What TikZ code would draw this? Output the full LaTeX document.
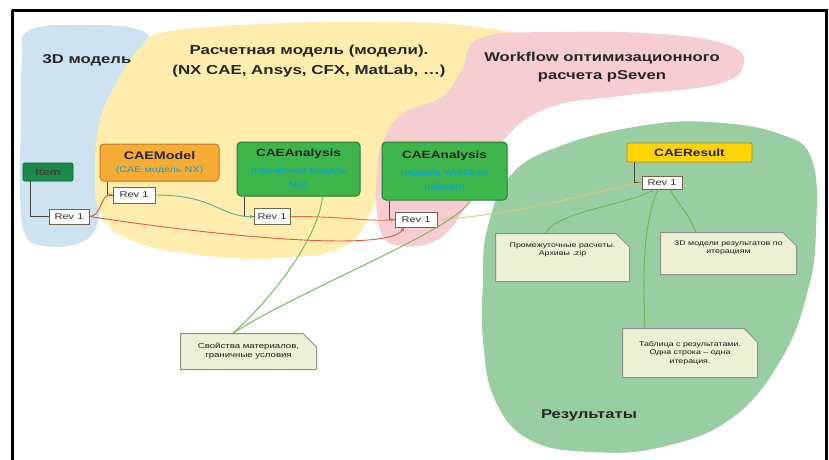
\documentclass[tikz,border=0pt]{standalone}
\usepackage{fontspec}
\setmainfont{Liberation Sans}[FakeStretch=1.3]
\usetikzlibrary{arrows.meta,calc}
\definecolor{blobblue}{RGB}{205,227,240}
\definecolor{blobyellow}{RGB}{254,237,172}
\definecolor{blobpink}{RGB}{246,205,208}
\definecolor{blobgreen}{RGB}{152,206,162}
\definecolor{itemgreen}{RGB}{24,140,72}
\definecolor{caegreen}{RGB}{62,182,76}
\definecolor{caegreenb}{RGB}{40,120,55}
\definecolor{caeorange}{RGB}{247,172,52}
\definecolor{caeorangeb}{RGB}{190,120,40}
\definecolor{caeyellow}{RGB}{255,212,0}
\definecolor{caeyellowb}{RGB}{170,140,20}
\definecolor{subblue}{RGB}{0,160,235}
\definecolor{revborder}{RGB}{110,100,80}
\definecolor{notefill}{RGB}{236,240,212}
\definecolor{noteborder}{RGB}{140,145,140}
\definecolor{linkred}{RGB}{225,85,70}
\definecolor{linkorange}{RGB}{232,110,60}
\definecolor{linkteal}{RGB}{90,172,150}
\definecolor{linkgreen}{RGB}{110,180,80}
\definecolor{linktan}{RGB}{222,200,120}
\definecolor{elbow}{RGB}{70,70,60}
\newcommand{\subtxt}{\mdseries\color{subblue}\fontsize{8.3}{10}\selectfont}
\tikzset{
  titletext/.style={font=\bfseries\fontsize{12.8}{18}\selectfont, align=center, text=black!85},
  caebox/.style={draw=#1, line width=1pt, rounded corners=4pt, align=center, inner sep=0pt, text=black!85},
  revbox/.style={draw=revborder, fill=white, line width=0.8pt, inner sep=0pt, font=\fontsize{8.5}{9}\selectfont, text=black!80},
  notebox/.style={inner sep=0pt, align=center, font=\fontsize{6.8}{8.5}\selectfont, text=black!90,
    path picture={\filldraw[fill=notefill, draw=noteborder, line width=1pt]
      ([shift={(0.5pt,0.5pt)}]path picture bounding box.south west) --
      ([shift={(0.5pt,-0.5pt)}]path picture bounding box.north west) --
      ([shift={(-14pt,-0.5pt)}]path picture bounding box.north east) --
      ([shift={(-0.5pt,-14pt)}]path picture bounding box.north east) --
      ([shift={(-0.5pt,0.5pt)}]path picture bounding box.south east) -- cycle;}},
  elbowline/.style={draw=elbow, line width=0.8pt},
  link/.style={line width=0.9pt},
  tip/.style={-{Stealth[length=4pt,width=3.5pt]}}
}
\begin{document}
\begin{tikzpicture}[x=1pt,y=-1pt]
\useasboundingbox (0,0) rectangle (829,459);
\fill[white] (0,0) rectangle (829,459);

% blobs
\fill[blobblue] plot[smooth cycle, tension=0.7] coordinates {(30,30) (90,25) (140,30) (150,48) (132,78) (106,108) (96,150) (100,190) (97,225) (80,243) (45,246) (25,234) (20,190) (21,120) (22,60)};
\fill[blobyellow] plot[smooth cycle, tension=0.7] coordinates {(165,32) (260,24) (380,22) (470,26) (535,40) (545,66) (505,88) (435,108) (392,150) (374,205) (345,246) (280,258) (200,255) (130,240) (100,212) (95,170) (100,120) (118,80) (140,48)};
\fill[blobpink] plot[smooth cycle, tension=0.7] coordinates {(480,38) (560,32) (660,34) (725,44) (744,62) (718,84) (620,96) (548,108) (502,142) (470,200) (440,238) (402,246) (380,230) (377,170) (386,135) (405,112) (440,98) (462,70)};
\fill[blobgreen] plot[smooth cycle, tension=0.7] coordinates {(487,230) (510,176) (560,146) (640,126) (710,122) (780,134) (812,160) (816,230) (808,290) (782,358) (732,418) (662,447) (592,452) (530,440) (495,400) (483,340) (483,280)};

% frame
\draw[line width=3pt] (12,10) -- (826,10) -- (826,480) (12,10) -- (12,480);

% group titles
\node[titletext] (t3d) at (87,60) {3D модель};
\node[titletext, font=\bfseries\fontsize{13}{20}\selectfont] (tcalc) at (309,61) {Расчетная модель (модели).\\(NX CAE, Ansys, CFX, MatLab, …)};
\node[titletext] (tflow) at (602,67) {Workflow оптимизационного\\расчета pSeven};
\node[titletext] (tres) at (589,415) {Результаты};

% boxes
\node[draw=itemgreen!70!black, fill=itemgreen, line width=0.8pt, rounded corners=2pt, minimum width=50pt, minimum height=18pt, inner sep=0pt, font=\bfseries\fontsize{9.5}{10}\selectfont, text=black!75] (item) at (48,172) {Item};
\node[revbox, minimum width=40pt, minimum height=15pt] (itemrev) at (69,216.5) {Rev 1};

\node[caebox=caeorangeb, fill=caeorange, minimum width=119pt, minimum height=37pt, font=\bfseries\fontsize{11}{13}\selectfont] (model) at (159.5,162.5) {CAEModel\\\subtxt (CAE модель NX)};
\node[revbox, minimum width=42pt, minimum height=16pt] (modelrev) at (134,195) {Rev 1};

\node[caebox=caegreenb, fill=caegreen, minimum width=123pt, minimum height=54pt, font=\bfseries\fontsize{10.5}{14}\selectfont] (anA) at (298.5,169) {CAEAnalysis\\[3pt]\subtxt (Расчетная модель\\\subtxt NX)};
\node[revbox, minimum width=36pt, minimum height=16pt] (anArev) at (272,216.5) {Rev 1};

\node[caebox=caegreenb, fill=caegreen, minimum width=125pt, minimum height=58pt, font=\bfseries\fontsize{10.5}{14}\selectfont] (anB) at (444.5,171) {CAEAnalysis\\[3pt]\subtxt (модель Workflow\\\subtxt pSeven)};
\node[revbox, minimum width=42pt, minimum height=15pt] (anBrev) at (416,219.5) {Rev 1};

\node[draw=caeyellowb, fill=caeyellow, line width=0.8pt, rounded corners=1pt, minimum width=125pt, minimum height=19pt, inner sep=0pt, font=\bfseries\fontsize{10.5}{11}\selectfont, text=black!85] (res) at (689.5,152.5) {CAEResult};
\node[revbox, minimum width=40pt, minimum height=13pt] (resrev) at (662,182.5) {Rev 1};

% notes
\node[notebox, minimum width=137pt, minimum height=37pt, font=\fontsize{7.4}{9}\selectfont] (nprops) at (248.5,351.5) {Свойства материалов,\\граничные условия};
\node[notebox, minimum width=135pt, minimum height=49pt] (ninter) at (562.5,257.5) {Промежуточные расчеты.\\Архивы .zip\\[8pt]};
\node[notebox, minimum width=137pt, minimum height=43pt] (n3d) at (728.5,253.5) {3D модели результатов по\\итерациям\\[4pt]};
\node[notebox, minimum width=136pt, minimum height=50pt] (ntable) at (690,353) {Таблица с результатами.\\Одна строка – одна\\итерация.};

% elbow connectors box -> revision
\draw[elbowline] ([xshift=-18pt]item.south) |- (itemrev.west);
\draw[elbowline] ([xshift=-52pt]model.south) |- (modelrev.west);
\draw[elbowline] ([xshift=-54pt]anA.south) |- (anArev.west);
\draw[elbowline] ([xshift=-55pt]anB.south) |- (anBrev.west);
\draw[elbowline] ([xshift=-55pt]res.south) |- (resrev.west);

% links between revisions
\draw[link, linkred, tip] (itemrev.east) .. controls (102,216) and (100,195) .. (modelrev.west);
\draw[link, linkred, tip] (itemrev.east) .. controls (230,238) and (390,252) .. ([xshift=-12pt]anBrev.south);
\draw[link, linkteal, tip] (modelrev.east) .. controls (215,195) and (220,217) .. (anArev.west);
\draw[link, linkorange, tip] (anArev.east) .. controls (340,216) and (370,222) .. (anBrev.west);
\draw[link, linktan] (anBrev.east) .. controls (520,215) and (600,190) .. (resrev.west);

% links to notes
\draw[link, linkgreen] ([xshift=24pt]anA.south) .. controls (318,240) and (270,300) .. ([xshift=-15pt]nprops.north);
\draw[link, linkgreen] ([xshift=26pt]anB.south) .. controls (455,230) and (300,290) .. ([xshift=-15pt]nprops.north);
\draw[link, linkgreen] ([xshift=-8pt]resrev.south) .. controls (630,205) and (560,210) .. ([xshift=-17pt]ninter.north);
\draw[link, linkgreen] ([xshift=-4pt]resrev.south) .. controls (645,220) and (642,260) .. ([xshift=-45pt]ntable.north);
\draw[link, linkgreen] ([xshift=8pt]resrev.south) .. controls (675,200) and (690,215) .. ([xshift=-33pt]n3d.north);
\end{tikzpicture}
\end{document}
